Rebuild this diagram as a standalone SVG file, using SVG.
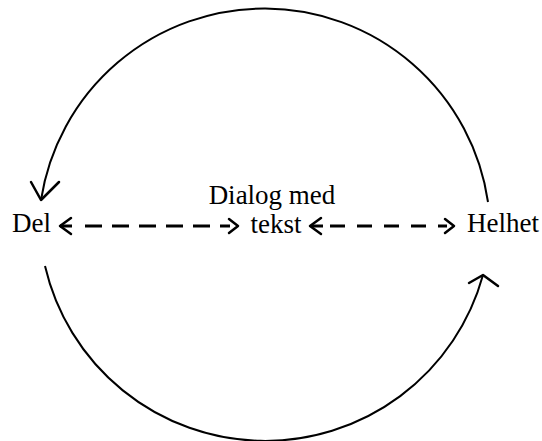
<svg xmlns="http://www.w3.org/2000/svg" width="542" height="441" viewBox="0 0 542 441">
<style>
.lbl{font-family:"Liberation Serif","Times New Roman",serif;font-size:27px;fill:#000}
.arc{fill:none;stroke:#000;stroke-width:2}
.dash{fill:none;stroke:#000;stroke-width:3;stroke-dasharray:17 10}
.head{fill:none;stroke:#000;stroke-width:2.5;stroke-linecap:round;stroke-linejoin:round}
</style>
<rect width="542" height="441" fill="#fff"/>
<g id="connectors">
  <path class="arc" d="M488,202 A226,226 0 0 0 41,200"/>
  <path class="head" d="M31,182 L41,200 L59,182"/>
  <path class="arc" d="M45,266 A226,226 0 0 0 483,275"/>
  <path class="head" d="M469,283 L483,275 L498,286"/>
  <path class="dash" d="M60,226 H72 M85,226 H230"/>
  <path class="head" d="M71,218 L60,226 L71,234"/>
  <path class="head" d="M229,219 L238,226 L229,233"/>
  <path class="dash" d="M311,226 H323 M330,226 H447" style="stroke-dasharray:15 12"/>
  <path class="head" d="M321,218 L310,226 L321,234"/>
  <path class="head" d="M445,219 L454,226 L445,233"/>
</g>
<g id="del"><text class="lbl" x="12" y="232">Del</text></g>
<g id="dialog"><text class="lbl" x="272" y="204" text-anchor="middle">Dialog med</text><text class="lbl" x="276" y="233" text-anchor="middle">tekst</text></g>
<g id="helhet"><text class="lbl" x="539" y="232" text-anchor="end">Helhet</text></g>
</svg>
